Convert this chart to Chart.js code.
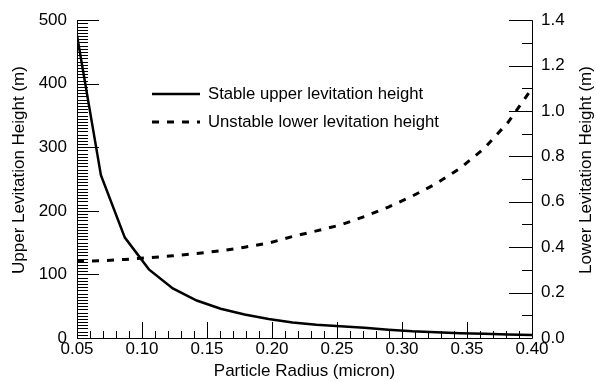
<!DOCTYPE html>
<html>
<head>
<meta charset="utf-8">
<script src="https://cdn.jsdelivr.net/npm/chart.js@4/dist/chart.umd.min.js"></script>
<style>
  html, body { margin: 0; padding: 0; background: #fff; }
</style>
</head>
<body>
<canvas id="levitationChart" width="596" height="381"></canvas>
<script>
// particle radius (micron)
const radius = [0.05, 0.0684, 0.0868, 0.1053, 0.1237, 0.1421, 0.1605, 0.1789, 0.1974, 0.2158,
                0.2342, 0.2526, 0.2711, 0.2895, 0.3079, 0.3263, 0.3447, 0.3632, 0.3816, 0.40];
// stable upper levitation height (m), left axis
const upperHeight = [476, 256, 158, 108, 78, 59, 46, 37, 30, 24.5,
                     21, 18.5, 16, 13, 10.5, 9, 7.5, 6.5, 5.5, 4.8];
// unstable lower levitation height (m), right axis
const lowerHeight = [0.338, 0.340, 0.346, 0.354, 0.362, 0.372, 0.384, 0.400, 0.418, 0.447,
                     0.472, 0.498, 0.535, 0.577, 0.625, 0.680, 0.748, 0.835, 0.950, 1.100];

const xTicks = [0.05, 0.10, 0.15, 0.20, 0.25, 0.30, 0.35, 0.40];
const leftTicks = [0, 100, 200, 300, 400, 500];
const rightTicks = [0, 0.2, 0.4, 0.6, 0.8, 1.0, 1.2, 1.4];
const seriesLabels = ["Stable upper levitation height", "Unstable lower levitation height"];
const xTitle = "Particle Radius (micron)";
const leftTitle = "Upper Levitation Height (m)";
const rightTitle = "Lower Levitation Height (m)";

const FONT = '"Liberation Sans", Arial, Helvetica, sans-serif';
const DASH = [7, 8];

// inward ticks, axis lines, titles and the in-plot legend
const axisDecor = {
  id: "axisDecor",
  beforeDatasetsDraw(chart) {
    const { ctx, chartArea: a, scales } = chart;
    const px = (v) => Math.round(v) + 0.5;
    ctx.save();
    ctx.strokeStyle = "#000";
    ctx.lineWidth = 1;

    ctx.beginPath();
    ctx.moveTo(px(a.left), a.top);
    ctx.lineTo(px(a.left), px(a.bottom));
    ctx.lineTo(px(a.right), px(a.bottom));
    ctx.lineTo(px(a.right), a.top);
    ctx.stroke();

    ctx.beginPath();
    // bottom axis: minor every 0.01, major every 0.05
    for (let i = 5; i <= 40; i++) {
      const x = px(scales.x.getPixelForValue(i / 100));
      const len = i % 5 === 0 ? 16 : 7;
      ctx.moveTo(x, a.bottom);
      ctx.lineTo(x, a.bottom - len);
    }
    // left axis: minor every 5, major every 100
    for (let v = 0; v <= 500; v += 5) {
      const y = px(scales.y.getPixelForValue(v));
      const len = v % 100 === 0 ? 22 : 11;
      ctx.moveTo(a.left, y);
      ctx.lineTo(a.left + len, y);
    }
    // right axis: minor every 0.1, major every 0.2
    for (let i = 0; i <= 14; i++) {
      const y = px(scales.y1.getPixelForValue(i / 10));
      const len = i % 2 === 0 ? 23 : 10;
      ctx.moveTo(a.right, y);
      ctx.lineTo(a.right - len, y);
    }
    ctx.stroke();
    ctx.restore();
  },
  afterDraw(chart) {
    const { ctx, chartArea: a } = chart;
    ctx.save();
    ctx.fillStyle = "#000";
    ctx.font = "17px " + FONT;
    ctx.textAlign = "center";
    ctx.textBaseline = "middle";
    ctx.fillText(xTitle, (a.left + a.right) / 2, 371);

    ctx.save();
    ctx.translate(19, 170);
    ctx.rotate(-Math.PI / 2);
    ctx.fillText(leftTitle, 0, 0);
    ctx.restore();

    ctx.save();
    ctx.translate(586, 170);
    ctx.rotate(-Math.PI / 2);
    ctx.fillText(rightTitle, 0, 0);
    ctx.restore();

    // legend
    ctx.strokeStyle = "#000";
    ctx.lineWidth = 2.5;
    ctx.beginPath();
    ctx.moveTo(152, 94);
    ctx.lineTo(200, 94);
    ctx.stroke();
    ctx.lineWidth = 3;
    ctx.setLineDash(DASH);
    ctx.beginPath();
    ctx.moveTo(152, 122);
    ctx.lineTo(200, 122);
    ctx.stroke();
    ctx.setLineDash([]);

    ctx.font = "16.7px " + FONT;
    ctx.textAlign = "left";
    ctx.fillText(seriesLabels[0], 208, 94);
    ctx.fillText(seriesLabels[1], 208, 122);
    ctx.restore();
  },
};

const tickFont = { family: FONT, size: 17 };

new Chart(document.getElementById("levitationChart"), {
  type: "line",
  data: {
    datasets: [
      {
        label: seriesLabels[0],
        data: radius.map((r, i) => ({ x: r, y: upperHeight[i] })),
        yAxisID: "y",
        borderColor: "#000",
        borderWidth: 2.5,
        pointRadius: 0,
        tension: 0,
      },
      {
        label: seriesLabels[1],
        data: radius.map((r, i) => ({ x: r, y: lowerHeight[i] })),
        yAxisID: "y1",
        borderColor: "#000",
        borderWidth: 3,
        borderDash: DASH,
        pointRadius: 0,
        tension: 0,
      },
    ],
  },
  options: {
    responsive: false,
    animation: false,
    devicePixelRatio: 1,
    layout: { padding: { top: 20, left: 0, right: 0, bottom: 0 } },
    plugins: {
      legend: { display: false },
      tooltip: { enabled: false },
    },
    scales: {
      x: {
        type: "linear",
        min: 0.05,
        max: 0.4,
        afterFit: (s) => { s.height = 43; },
        afterBuildTicks: (s) => { s.ticks = xTicks.map((v) => ({ value: v })); },
        grid: { display: false, drawTicks: false },
        border: { display: false },
        ticks: {
          font: tickFont,
          color: "#000",
          padding: 1,
          maxRotation: 0,
          autoSkip: false,
          callback: (v) => Number(v).toFixed(2),
        },
      },
      y: {
        type: "linear",
        position: "left",
        min: 0,
        max: 500,
        afterFit: (s) => { s.width = 77; },
        afterBuildTicks: (s) => { s.ticks = leftTicks.map((v) => ({ value: v })); },
        grid: { display: false, drawTicks: false },
        border: { display: false },
        ticks: { font: tickFont, color: "#000", padding: 10 },
      },
      y1: {
        type: "linear",
        position: "right",
        min: 0,
        max: 1.4,
        afterFit: (s) => { s.width = 64; },
        afterBuildTicks: (s) => { s.ticks = rightTicks.map((v) => ({ value: v })); },
        grid: { display: false, drawTicks: false },
        border: { display: false },
        ticks: {
          font: tickFont,
          color: "#000",
          padding: 9,
          callback: (v) => Number(v).toFixed(1),
        },
      },
    },
  },
  plugins: [axisDecor],
});
</script>
</body>
</html>
